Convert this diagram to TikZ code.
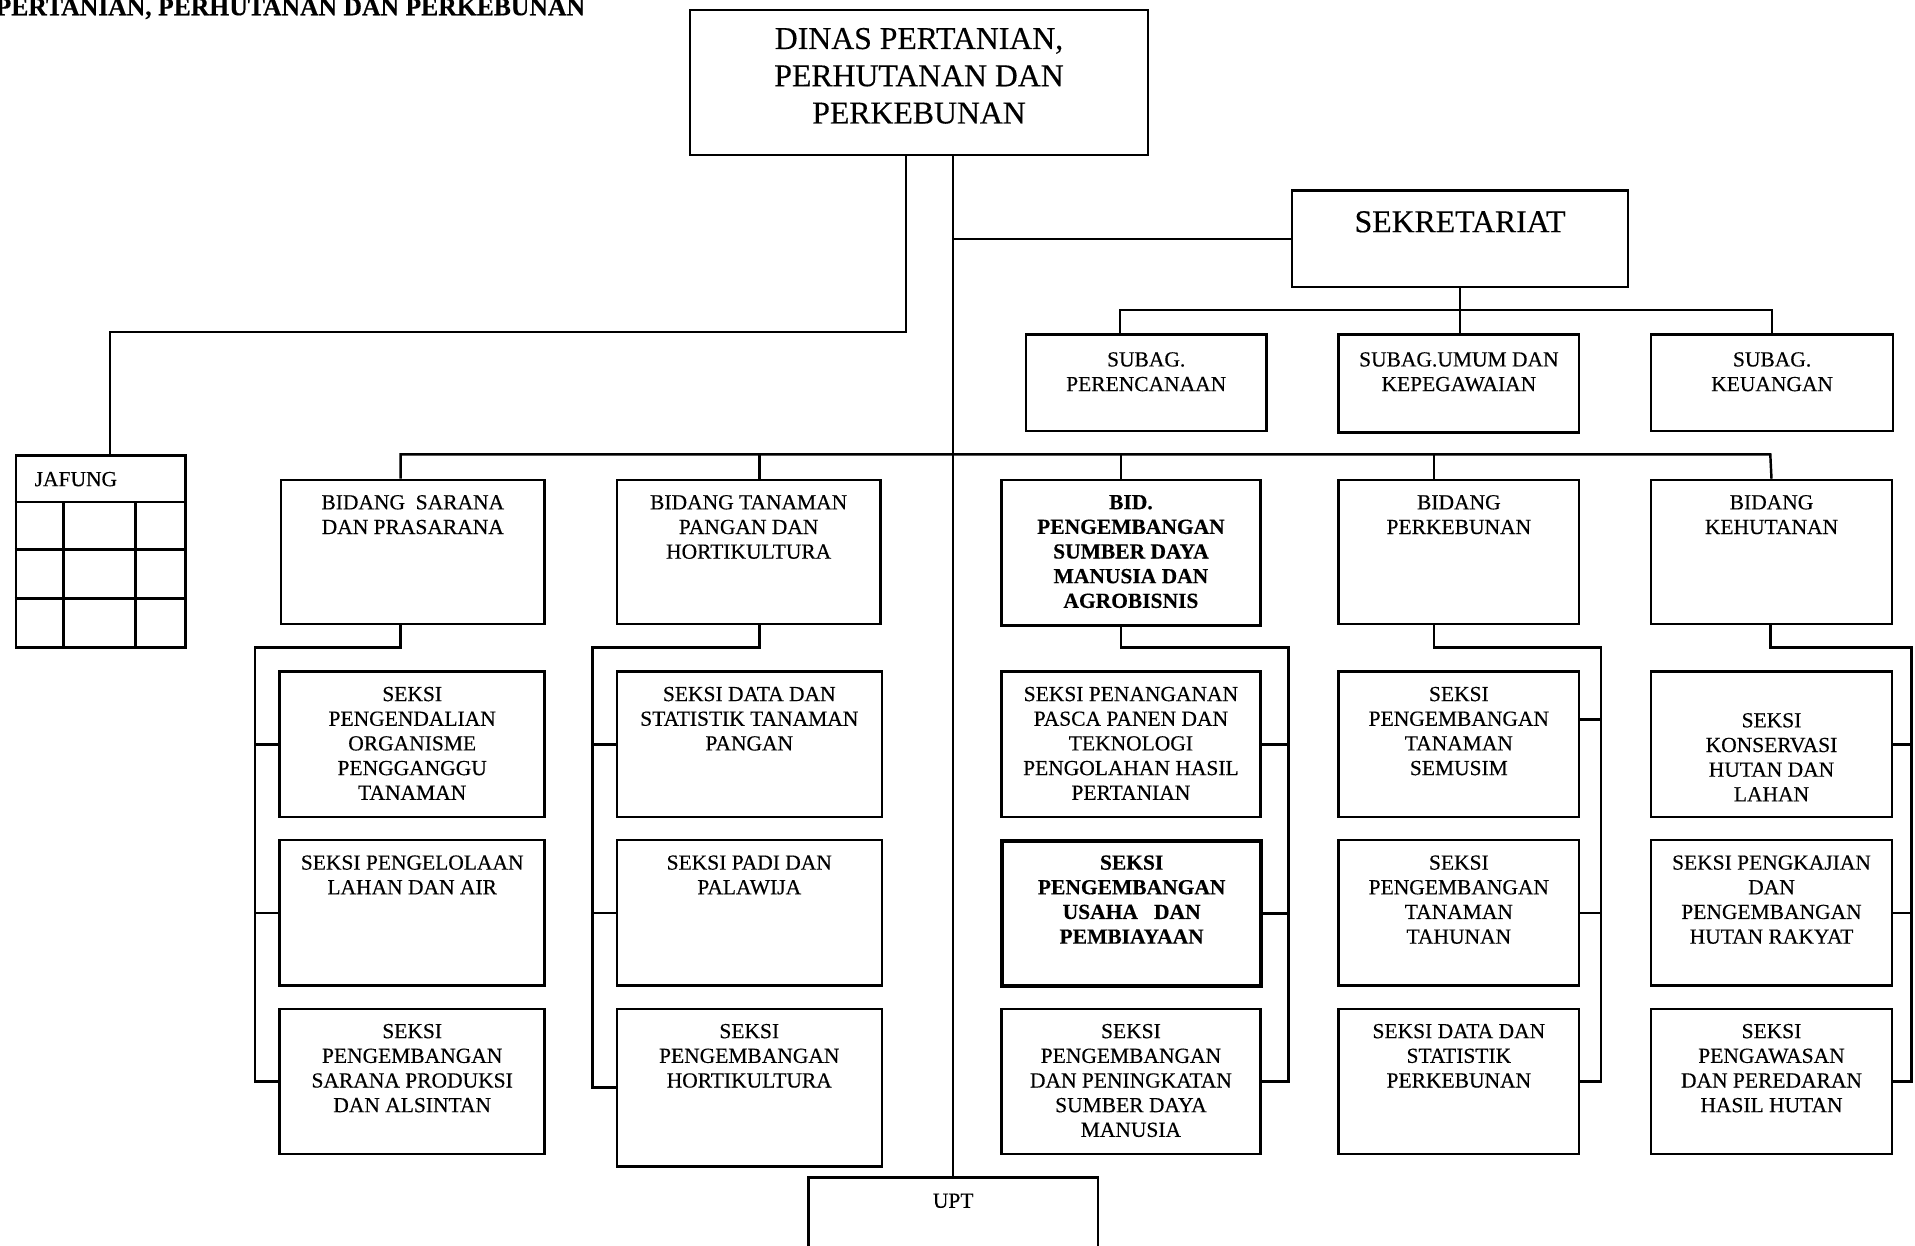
\documentclass[tikz,border=0pt]{standalone}
\usepackage{fontspec}
\setmainfont{Liberation Serif}[FakeBold=0.35]
\usetikzlibrary{calc}
\tikzset{
  box/.style={draw, line width=1pt, inner sep=0pt},
  boldbox/.style={line width=1.6pt},
  conn/.style={line width=1pt},
  txt/.style={align=center, inner sep=0pt, font=\fontsize{8.8}{10.1}\selectfont},
  big/.style={font=\fontsize{13}{15.25}\selectfont},
  bld/.style={font=\bfseries\fontsize{8.8}{10.1}\selectfont},
}
% #1 name, #2 x1, #3 y1, #4 x2, #5 y2, #6 extra style
\newcommand\obx[6]{\node[box, anchor=north west, minimum width={(#4-#2)*0.5pt}, minimum height={(#5-#3)*0.5pt}, #6] (#1) at (#2,#3) {};}
% #1 box name, #2 cap-top y, #3 style, #4 text
\newcommand\otx[4]{\node[txt, anchor=north, #3] (#1t) at (#1.north |- 0,#2) {#4};}
\begin{document}
\begin{tikzpicture}[x=0.5pt, y=-0.5pt]
\fill[white] (0,0) rectangle (1568,1020);
\useasboundingbox (0,0) rectangle (1568,1020);
\clip (0,0) rectangle (1568,1020);

% title (cut at the page edge)
\node[anchor=base west, inner sep=0pt, font=\bfseries\fontsize{10.5}{12}\selectfont] (title) at (-4,12.5) {PERTANIAN, PERHUTANAN DAN PERKEBUNAN};

% head
\obx{dinas}{564}{7}{939}{126}{}
\otx{dinas}{22.5}{big}{DINAS PERTANIAN,\\PERHUTANAN DAN\\PERKEBUNAN}
\obx{sek}{1057}{155}{1332}{234}{}
\otx{sek}{172.5}{big}{SEKRETARIAT}

% subag
\obx{subA}{839}{273}{1036}{352}{}
\otx{subA}{288}{}{SUBAG.\\PERENCANAAN}
\obx{subB}{1095}{273}{1292}{353}{}
\otx{subB}{288}{}{SUBAG.UMUM DAN\\KEPEGAWAIAN}
\obx{subC}{1351}{273}{1549}{352}{}
\otx{subC}{288}{}{SUBAG.\\KEUANGAN}

% jafung
\obx{jaf}{12}{372}{151}{529}{}
\node[txt, anchor=north west] (jaft) at (28,386) {JAFUNG};
\draw[conn] (jaf.west |- 0,411) -- (jaf.east |- 0,411);
\draw[conn] (jaf.west |- 0,450) -- (jaf.east |- 0,450);
\draw[conn] (jaf.west |- 0,490) -- (jaf.east |- 0,490);
\draw[conn] (52,411) -- (jaf.south -| 52,0);
\draw[conn] (111,411) -- (jaf.south -| 111,0);

% bidang
\obx{bA}{229}{392}{445}{510}{}
\otx{bA}{405}{}{BIDANG~ SARANA\\DAN PRASARANA}
\obx{bB}{504}{392}{720}{510}{}
\otx{bB}{405}{}{BIDANG TANAMAN\\PANGAN DAN\\HORTIKULTURA}
\obx{bC}{819}{392}{1031}{511}{}
\otx{bC}{405}{bld}{BID.\\PENGEMBANGAN\\SUMBER DAYA\\MANUSIA DAN\\AGROBISNIS}
\obx{bD}{1095}{392}{1292}{510}{}
\otx{bD}{405}{}{BIDANG\\PERKEBUNAN}
\obx{bE}{1351}{392}{1548}{510}{}
\otx{bE}{405}{}{BIDANG\\KEHUTANAN}

% seksi column A
\obx{sA1}{228}{549}{445}{668}{}
\otx{sA1}{562}{}{SEKSI\\PENGENDALIAN\\ORGANISME\\PENGGANGGU\\TANAMAN}
\obx{sA2}{228}{687}{445}{806}{}
\otx{sA2}{700}{}{SEKSI PENGELOLAAN\\LAHAN DAN AIR}
\obx{sA3}{228}{825}{445}{944}{}
\otx{sA3}{838}{}{SEKSI\\PENGEMBANGAN\\SARANA PRODUKSI\\DAN ALSINTAN}

% seksi column B
\obx{sB1}{504}{549}{721}{668}{}
\otx{sB1}{562}{}{SEKSI DATA DAN\\STATISTIK TANAMAN\\PANGAN}
\obx{sB2}{504}{687}{721}{806}{}
\otx{sB2}{700}{}{SEKSI PADI DAN\\PALAWIJA}
\obx{sB3}{504}{825}{721}{954}{}
\otx{sB3}{838}{}{SEKSI\\PENGEMBANGAN\\HORTIKULTURA}

% seksi column C
\obx{sC1}{819}{549}{1031}{668}{}
\otx{sC1}{562}{}{SEKSI PENANGANAN\\PASCA PANEN DAN\\TEKNOLOGI\\PENGOLAHAN HASIL\\PERTANIAN}
\obx{sC2}{819}{687}{1031}{806}{boldbox}
\otx{sC2}{700}{bld}{SEKSI\\PENGEMBANGAN\\USAHA~~ DAN\\PEMBIAYAAN}
\obx{sC3}{819}{825}{1031}{944}{}
\otx{sC3}{838}{}{SEKSI\\PENGEMBANGAN\\DAN PENINGKATAN\\SUMBER DAYA\\MANUSIA}

% seksi column D
\obx{sD1}{1095}{549}{1292}{668}{}
\otx{sD1}{562}{}{SEKSI\\PENGEMBANGAN\\TANAMAN\\SEMUSIM}
\obx{sD2}{1095}{687}{1292}{806}{}
\otx{sD2}{700}{}{SEKSI\\PENGEMBANGAN\\TANAMAN\\TAHUNAN}
\obx{sD3}{1095}{825}{1292}{944}{}
\otx{sD3}{838}{}{SEKSI DATA DAN\\STATISTIK\\PERKEBUNAN}

% seksi column E
\obx{sE1}{1351}{549}{1548}{668}{}
\otx{sE1}{583.5}{}{SEKSI\\KONSERVASI\\HUTAN DAN\\LAHAN}
\obx{sE2}{1351}{687}{1548}{806}{}
\otx{sE2}{700}{}{SEKSI PENGKAJIAN\\DAN\\PENGEMBANGAN\\HUTAN RAKYAT}
\obx{sE3}{1351}{825}{1548}{944}{}
\otx{sE3}{838}{}{SEKSI\\PENGAWASAN\\DAN PEREDARAN\\HASIL HUTAN}

% UPT
\obx{upt}{661}{963}{898}{1040}{}
\otx{upt}{977}{}{UPT}

% ---- connectors ----
\coordinate (jx) at (742,0);
\coordinate (jy) at (90,272);
\draw[conn] (dinas.south -| jx) |- (jy) -- (jy |- jaf.north);
\draw[conn] (dinas.south -| upt.north) -- (upt.north);
\draw[conn] (sek.west -| upt.north) -- (sek.west);

\coordinate (sy) at (0,254);
\coordinate (s1x) at (917,0);
\draw[conn] (sek.south) -- (sek.south |- sy);
\draw[conn] (s1x |- subA.north) |- (subC.north |- sy) -- (subC.north);
\draw[conn] (sek.south |- sy) -- (sek.south |- subB.north);

\coordinate (by) at (0,372);
\coordinate (bx1) at (328,0);
\coordinate (bx2) at (622,0);
\coordinate (bx3) at (918,0);
\coordinate (bx4) at (1174,0);
\coordinate (bx5) at (1449.5,0);
\draw[conn] (bx1 |- bA.north) |- (bx5 |- by) -- (bE.north);
\draw[conn] (bx2 |- by) -- (bx2 |- bB.north);
\draw[conn] (bx3 |- by) -- (bx3 |- bC.north);
\draw[conn] (bx4 |- by) -- (bx4 |- bD.north);

% brackets
\coordinate (kA) at (209,530);
\draw[conn] (bx1 |- bA.south) |- (kA) |- (sA3.west);
\draw[conn] (kA |- sA1.west) -- (sA1.west);
\draw[conn] (kA |- sA2.west) -- (sA2.west);

\coordinate (kB) at (485,530);
\draw[conn] (bx2 |- bB.south) |- (kB) |- (sB3.west);
\draw[conn] (kB |- sB1.west) -- (sB1.west);
\draw[conn] (kB |- sB2.west) -- (sB2.west);

\coordinate (kC) at (1055,530);
\draw[conn] (bx3 |- bC.south) |- (kC) |- (sC3.east);
\draw[conn] (kC |- sC1.east) -- (sC1.east);
\draw[conn] (kC |- sC2.east) -- (sC2.east);

\coordinate (kD) at (1311,530);
\draw[conn] (bx4 |- bD.south) |- (kD) |- (sD3.east);
\draw[conn] (kD |- 0,589) -- (sD1.east |- 0,589);
\draw[conn] (kD |- sD2.east) -- (sD2.east);

\coordinate (kE) at (1565,530);
\draw[conn] (bx5 |- bE.south) |- (kE) |- (sE3.east);
\draw[conn] (kE |- sE1.east) -- (sE1.east);
\draw[conn] (kE |- sE2.east) -- (sE2.east);
\end{tikzpicture}
\end{document}
